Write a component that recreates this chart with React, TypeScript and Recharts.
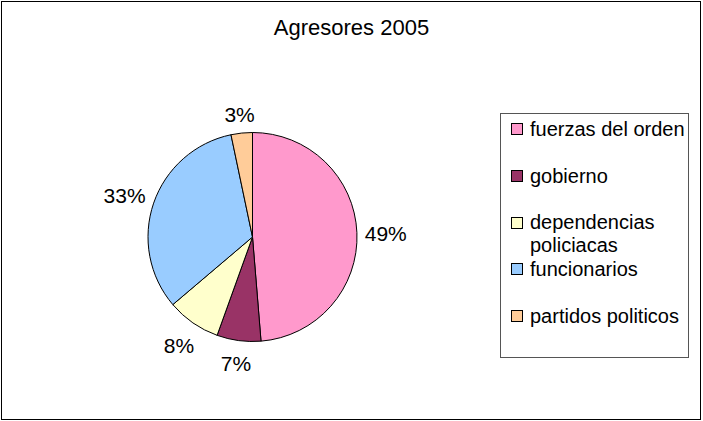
import { Legend, Pie, PieChart, Cell } from "recharts";

const categories = [
  "fuerzas del orden",
  "gobierno",
  "dependencias policiacas",
  "funcionarios",
  "partidos politicos",
];
const shares = [48.7, 6.8, 8.3, 32.9, 3.3];
const colors = ["#FF99CC", "#993366", "#FFFFCC", "#99CCFF", "#FFCC99"];

const data = categories.map((name, i) => ({ name, value: shares[i] }));

const FONT = "'Liberation Sans', Arial, sans-serif";
const RAD = Math.PI / 180;

function PercentLabel(props: any) {
  const { cx, cy, midAngle, outerRadius, percent } = props;
  const text = `${Math.round(percent * 100)}%`;
  const ux = Math.cos(-midAngle * RAD);
  const uy = Math.sin(-midAngle * RAD);
  const hw = text.length * 6.5;
  const hh = 10;
  const r = outerRadius + 9 + hw * Math.abs(ux) + hh * Math.abs(uy);
  return (
    <text
      x={cx + r * ux}
      y={cy + r * uy + 2}
      textAnchor="middle"
      dominantBaseline="central"
      fontFamily={FONT}
      fontSize={21}
      fill="#000"
    >
      {text}
    </text>
  );
}

function LegendBox({ payload }: any) {
  // keep the legend in data order, not alphabetical
  const items = [...((payload ?? []) as any[])].sort(
    (a, b) => categories.indexOf(a.value) - categories.indexOf(b.value)
  );
  return (
    <div
      style={{
        position: "relative",
        width: 189,
        height: 245,
        border: "1px solid #555",
        boxSizing: "border-box",
        background: "#fff",
        fontFamily: FONT,
        fontSize: 20,
        color: "#000",
      }}
    >
      {items.map((entry, i) => {
        const top = 15.8 + i * 46.7;
        return (
          <div key={entry.value} style={{ position: "absolute", left: 0, top: 0 }}>
            <div
              style={{
                position: "absolute",
                left: 10,
                top: top - 6,
                width: 12,
                height: 12,
                boxSizing: "border-box",
                border: "1px solid #000",
                background: colors[categories.indexOf(entry.value)] ?? entry.color,
              }}
            />
            <div
              style={{
                position: "absolute",
                left: 29,
                top: top - 11.5,
                width: 158,
                lineHeight: "23px",
                whiteSpace: "normal",
              }}
            >
              {entry.value}
            </div>
          </div>
        );
      })}
    </div>
  );
}

export default function App() {
  return (
    <div style={{ position: "relative", width: 703, height: 421, background: "#fff" }}>
      <style>{`body{margin:0}`}</style>
      <div
        style={{
          position: "absolute",
          left: 1,
          top: 1,
          width: 700,
          height: 419,
          border: "1.5px solid #000",
          boxSizing: "border-box",
        }}
      />
      <div
        style={{
          position: "absolute",
          left: 0,
          width: 703,
          top: 15,
          textAlign: "center",
          fontFamily: FONT,
          fontSize: 22,
          lineHeight: "26px",
        }}
      >
        Agresores 2005
      </div>
      <div style={{ position: "absolute", left: 0, top: 0 }}>
        <PieChart width={703} height={421} margin={{ top: 0, right: 0, bottom: 0, left: 0 }}>
          <Pie
            data={data}
            dataKey="value"
            nameKey="name"
            cx={252.5}
            cy={237}
            outerRadius={104.5}
            startAngle={90}
            endAngle={-270}
            stroke="#000"
            strokeWidth={1}
            label={PercentLabel}
            labelLine={false}
            isAnimationActive={false}
          >
            {data.map((d, i) => (
              <Cell key={d.name} fill={colors[i]} />
            ))}
          </Pie>
          <Legend
            layout="vertical"
            align="right"
            verticalAlign="top"
            content={LegendBox}
            wrapperStyle={{ position: "absolute", left: 500, top: 112.5, width: 189, height: 245 }}
          />
        </PieChart>
      </div>
    </div>
  );
}
